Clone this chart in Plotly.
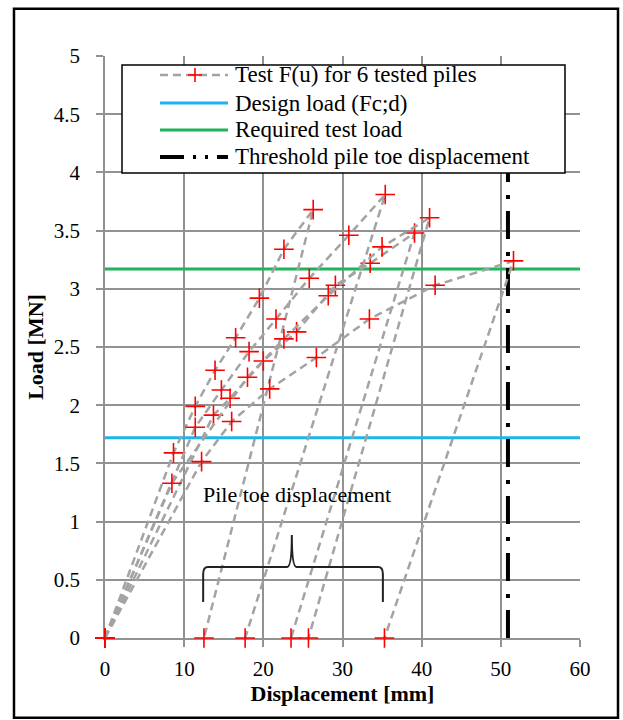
import plotly.graph_objects as go

# ---- data ----
pile_names = ["Pile 1", "Pile 2", "Pile 3", "Pile 4", "Pile 5"]
pile_disp = [
    [0, 8.65, 11.4, 13.9, 16.5, 19.5, 22.6, 26.3, 12.5],
    [0, 11.4, 14.7, 18.2, 21.6, 25.8, 30.8, 35.4, 17.7],
    [0, 13.7, 15.8, 20.0, 24.2, 29.1, 33.5, 39.1, 23.5],
    [0, 8.45, 18.0, 22.6, 28.2, 35.0, 41.0, 25.7],
    [0, 12.2, 16.0, 20.8, 26.7, 33.4, 41.7, 51.6, 35.3],
]
pile_load = [
    [0, 1.59, 1.99, 2.30, 2.58, 2.92, 3.34, 3.68, 0],
    [0, 1.81, 2.13, 2.46, 2.74, 3.09, 3.46, 3.81, 0],
    [0, 1.915, 2.06, 2.38, 2.63, 3.03, 3.22, 3.48, 0],
    [0, 1.33, 2.24, 2.57, 2.94, 3.36, 3.61, 0],
    [0, 1.515, 1.86, 2.14, 2.41, 2.74, 3.03, 3.24, 0],
]
design_load = 1.72
required_test_load = 3.17
threshold_disp = 50.9
threshold_span = [0, 4]
x_range = [0, 60]
y_range = [0, 5]
x_ticks = [0, 10, 20, 30, 40, 50, 60]
y_ticks = [0, 0.5, 1, 1.5, 2, 2.5, 3, 3.5, 4, 4.5, 5]
y_tick_labels = ["0", "0.5", "1", "1.5", "2", "2.5", "3", "3.5", "4", "4.5", "5"]
legend_labels = ["Test F(u) for 6 tested piles", "Design load (Fc;d)",
                 "Required test load", "Threshold pile toe displacement"]

# bracket annotation ("Pile toe displacement")
br_left, br_mid, br_right = 12.4, 23.6, 35.1
br_bottom, br_bar, br_peak = 0.31, 0.61, 0.885
label_x, label_y = 24.3, 1.23

SERIF = "Liberation Serif, Times New Roman, serif"
GREY = "#a3a3a3"
CYAN = "#1cb4ec"
GREEN = "#1fb35a"
THR_DASH = "28px,12px,4px,13px"
PILE_DASH = "8px,5px"

fig = go.Figure()

fig.add_trace(go.Scatter(
    x=x_range, y=[design_load, design_load], mode="lines",
    line=dict(color=CYAN, width=3), name=legend_labels[1]))
fig.add_trace(go.Scatter(
    x=x_range, y=[required_test_load, required_test_load], mode="lines",
    line=dict(color=GREEN, width=3), name=legend_labels[2]))
fig.add_trace(go.Scatter(
    x=[threshold_disp, threshold_disp], y=threshold_span, mode="lines",
    line=dict(color="black", width=4, dash=THR_DASH),
    name=legend_labels[3]))

for i, (xs, ys) in enumerate(zip(pile_disp, pile_load)):
    fig.add_trace(go.Scatter(
        x=xs, y=ys, mode="lines+markers",
        line=dict(color=GREY, width=2.5, dash=PILE_DASH),
        marker=dict(symbol="cross-thin", size=14, color="red",
                    line=dict(color="red", width=1.6)),
        name=legend_labels[0], cliponaxis=False))

r = 0.6
ry = 0.06
path = (f"M{br_left},{br_bottom} L{br_left},{br_bar - ry} "
        f"Q{br_left},{br_bar} {br_left + r},{br_bar} "
        f"L{br_mid - r},{br_bar} Q{br_mid},{br_bar} {br_mid},{br_peak} "
        f"Q{br_mid},{br_bar} {br_mid + r},{br_bar} "
        f"L{br_right - r},{br_bar} Q{br_right},{br_bar} {br_right},{br_bar - ry} "
        f"L{br_right},{br_bottom}")

shapes = [
    dict(type="path", xref="x", yref="y", path=path,
         line=dict(color="#222222", width=2)),
    # legend box
    dict(type="rect", xref="paper", yref="paper",
         x0=0.0358, x1=0.9684, y0=0.799, y1=0.9845,
         line=dict(color="black", width=1.5), fillcolor="white",
         layer="above"),
    # outer frame of the figure
    dict(type="rect", xref="paper", yref="paper",
         x0=-0.1916, x1=1.08, y0=-0.137, y1=1.081,
         line=dict(color="black", width=2.5), layer="above"),
]

# hand-built legend (paper coords)
row_y = [0.9674, 0.9192, 0.8729, 0.8265]
sym_x0, sym_x1, sym_mid, text_x = 0.1158, 0.2589, 0.1895, 0.2705
sym_styles = [dict(color=GREY, width=2.5, dash=PILE_DASH),
              dict(color=CYAN, width=3),
              dict(color=GREEN, width=3),
              dict(color="black", width=4, dash="24px,9px,3px,9px,3px,9px")]
annotations = [dict(x=label_x, y=label_y, xref="x", yref="y",
                    text="Pile toe displacement", showarrow=False,
                    font=dict(family=SERIF, size=22, color="black"))]
for yy, lab, st in zip(row_y, legend_labels, sym_styles):
    shapes.append(dict(type="line", xref="paper", yref="paper",
                       x0=sym_x0, x1=sym_x1, y0=yy, y1=yy,
                       line=st, layer="above"))
    annotations.append(dict(x=text_x, y=yy, xref="paper", yref="paper",
                            xanchor="left", yanchor="middle", text=lab,
                            showarrow=False,
                            font=dict(family=SERIF, size=23, color="black")))
# red plus in first legend row
hx, hy = 0.0147, 0.012
shapes.append(dict(type="line", xref="paper", yref="paper",
                   x0=sym_mid - hx, x1=sym_mid + hx, y0=row_y[0], y1=row_y[0],
                   line=dict(color="red", width=1.6), layer="above"))
shapes.append(dict(type="line", xref="paper", yref="paper",
                   x0=sym_mid, x1=sym_mid, y0=row_y[0] - hy, y1=row_y[0] + hy,
                   line=dict(color="red", width=1.6), layer="above"))

fig.update_layout(
    width=623, height=720,
    margin=dict(l=105, r=43, t=56, b=82),
    paper_bgcolor="white", plot_bgcolor="white",
    font=dict(family=SERIF, size=20, color="black"),
    showlegend=False,
    shapes=shapes,
    annotations=annotations,
    xaxis=dict(range=x_range, tickvals=x_ticks, showgrid=True,
               gridcolor="#929292", gridwidth=1.5, zeroline=False,
               showline=True, linecolor="#929292", linewidth=1.5,
               ticks="outside", ticklen=7, tickcolor="#929292",
               tickwidth=1.5, ticklabelstandoff=4, layer="below traces",
               tickfont=dict(family=SERIF, size=21),
               title=dict(text="<b>Displacement [mm]</b>", standoff=6,
                          font=dict(family=SERIF, size=22))),
    yaxis=dict(range=y_range, tickvals=y_ticks, ticktext=y_tick_labels,
               showgrid=True, gridcolor="#929292", gridwidth=1.5,
               zeroline=False, showline=True, linecolor="#929292",
               linewidth=1.5, ticks="outside", ticklen=7,
               tickcolor="#929292", tickwidth=1.5, ticklabelstandoff=12,
               layer="below traces",
               tickfont=dict(family=SERIF, size=21),
               title=dict(text="<b>Load [MN]</b>", standoff=4,
                          font=dict(family=SERIF, size=22))),
)

fig.write_html("out.html", config={"displayModeBar": False},
               post_script="document.body.style.margin='0';")
